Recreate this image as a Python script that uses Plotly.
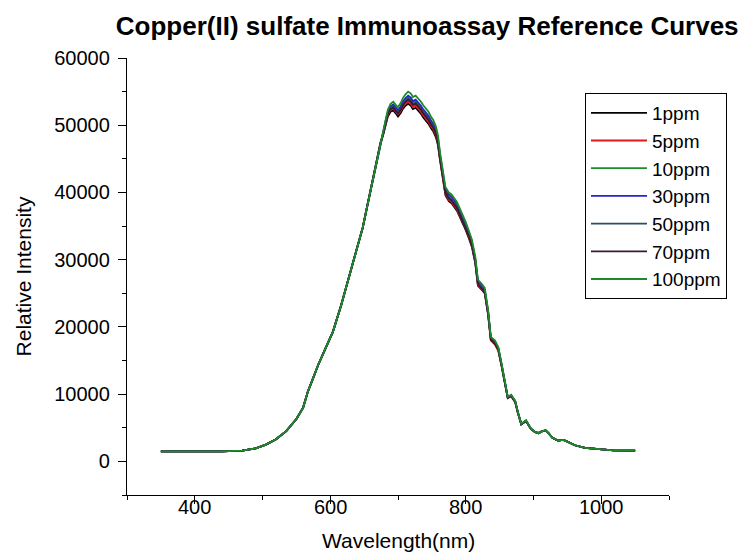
import plotly.graph_objects as go

# ---------------- data ----------------
series_names = ["1ppm", "5ppm", "10ppm", "30ppm", "50ppm", "70ppm", "100ppm"]
series_colors = ["#000000", "#E3171E", "#1E8C28", "#2626CC", "#2E4C66", "#3A1838", "#1F8A2A"]

# rising edge (all curves coincide here)
wl_rise = [350, 380, 410, 440, 470, 490, 505, 520, 535, 550, 560, 567, 574, 582,
           593, 604, 616, 624, 631, 641, 648, 653, 660]
val_rise = [1500, 1480, 1460, 1480, 1600, 1950, 2500, 3300, 4500, 6300, 8000, 10400,
            12200, 14300, 16800, 19300, 23200, 26000, 28700, 32100, 34800, 37200, 40600]

# peak region (curves separate slightly)
wl_peak = [665, 670, 674, 678, 682, 685, 689, 693, 697, 700, 704, 707, 711, 715, 719,
           722, 726, 730, 734, 737, 741, 745, 749, 752, 756, 759, 762, 766, 770, 775,
           779, 787, 794, 800, 805, 809, 814, 818, 823, 828, 833, 837, 843, 848, 853,
           858, 862, 867, 873, 877, 882, 889, 893, 896, 902]
peak_1ppm = [42900, 45300, 47200, 48500, 50300, 51300, 52000, 52200, 51700, 51300, 51800,
             52400, 52900, 53200, 52900, 52400, 52600, 52200, 51700, 51200, 50700, 50200,
             49500, 49100, 48200, 47000, 44800, 42000, 39600, 38700, 38400, 37300, 35800,
             34400, 33100, 31900, 29500, 26100, 25600, 25000, 21800, 18000, 17400, 16500,
             14100, 11200, 9400, 9700, 8800, 7200, 5500, 6000, 5400, 4850, 4380]
peak_5ppm = [42950, 45350, 47300, 48650, 50450, 51500, 52250, 52450, 51950, 51600, 52100,
             52700, 53200, 53500, 53200, 52700, 52900, 52500, 52000, 51500, 51000, 50500,
             49800, 49400, 48500, 47300, 45000, 42200, 39800, 38900, 38600, 37500, 36000,
             34600, 33300, 32100, 29700, 26200, 25700, 25100, 21900, 18100, 17500, 16600,
             14200, 11300, 9450, 9750, 8850, 7200, 5500, 6000, 5420, 4860, 4380]
peak_10ppm = [42980, 45420, 47400, 48800, 50700, 51900, 52700, 52950, 52450, 52100, 52650,
              53300, 53850, 54200, 53900, 53400, 53600, 53200, 52700, 52200, 51700, 51200,
              50450, 50050, 49050, 47800, 45400, 42500, 40200, 39400, 39100, 38000, 36400,
              35000, 33700, 32500, 30000, 26600, 26100, 25400, 22200, 18300, 17800, 16800,
              14350, 11400, 9500, 9820, 8920, 7250, 5550, 6050, 5460, 4880, 4390]
peak_30ppm = [42990, 45450, 47420, 48850, 50800, 52000, 52850, 53100, 52600, 52250, 52800,
              53500, 54050, 54400, 54100, 53600, 53800, 53400, 52900, 52400, 51900, 51400,
              50650, 50250, 49250, 48000, 45600, 42700, 40500, 39700, 39400, 38300, 36700,
              35300, 33900, 32700, 30200, 26800, 26300, 25600, 22350, 18400, 17900, 16900,
              14400, 11450, 9550, 9860, 8960, 7280, 5580, 6080, 5480, 4890, 4395]
peak_50ppm = [42970, 45400, 47350, 48700, 50600, 51750, 52500, 52750, 52250, 51900, 52450,
              53100, 53600, 53950, 53650, 53150, 53350, 52950, 52450, 51950, 51450, 50950,
              50200, 49800, 48850, 47600, 45250, 42400, 40100, 39250, 38950, 37850, 36250,
              34850, 33550, 32350, 29900, 26450, 25950, 25300, 22100, 18250, 17700, 16750,
              14300, 11350, 9480, 9800, 8900, 7240, 5530, 6030, 5440, 4870, 4385]
peak_70ppm = [42960, 45380, 47320, 48650, 50500, 51650, 52400, 52600, 52100, 51750, 52300,
              52950, 53450, 53800, 53500, 53000, 53200, 52800, 52300, 51800, 51300, 50800,
              50050, 49650, 48700, 47450, 45100, 42300, 40000, 39100, 38800, 37700, 36100,
              34700, 33400, 32200, 29800, 26350, 25850, 25200, 22000, 18200, 17600, 16700,
              14250, 11300, 9460, 9780, 8880, 7230, 5520, 6020, 5430, 4860, 4382]
peak_100ppm = [43000, 45500, 47500, 49000, 51000, 52300, 53200, 53500, 53000, 52700, 53300,
               54000, 54600, 55000, 54700, 54200, 54400, 54000, 53500, 53000, 52500, 52000,
               51200, 50800, 49800, 48500, 46000, 43000, 40800, 40000, 39700, 38600, 37000,
               35600, 34200, 33000, 30500, 27000, 26500, 25800, 22500, 18500, 18000, 17000,
               14500, 11500, 9600, 9900, 9000, 7300, 5600, 6100, 5500, 4900, 4400]

# long-wavelength tail (all curves coincide here)
wl_tail = [907, 913, 918, 922, 928, 936, 944, 951, 961, 976, 996, 1018, 1050]
val_tail = [4200, 4500, 4600, 4200, 3500, 3100, 3200, 2900, 2400, 2000, 1800, 1650, 1600]

peak_series = [peak_1ppm, peak_5ppm, peak_10ppm, peak_30ppm, peak_50ppm, peak_70ppm, peak_100ppm]

x_ticks = [400, 600, 800, 1000]
y_ticks = [0, 10000, 20000, 30000, 40000, 50000, 60000]

# ---------------- figure ----------------
FONT = "Liberation Sans, Arial, sans-serif"
fig = go.Figure()
wl_all = wl_rise + wl_peak + wl_tail
for name, color, peak in zip(series_names, series_colors, peak_series):
    fig.add_trace(go.Scatter(
        x=wl_all, y=val_rise + peak + val_tail, mode="lines", name=name,
        line=dict(color=color, width=1.8),
    ))

# x tick labels placed right under the tick marks (as in the reference)
annotations = [
    dict(x=v, xref="x", y=0, yref="paper", text=str(v), showarrow=False,
         yanchor="middle", yshift=-12, font=dict(family=FONT, size=20, color="black"))
    for v in x_ticks
]
annotations.append(
    dict(x=0.5, xref="paper", y=0, yref="paper", text="Wavelength(nm)", showarrow=False,
         yanchor="middle", yshift=-45, font=dict(family=FONT, size=21, color="black"))
)

fig.update_layout(
    width=754, height=560,
    margin=dict(l=119, r=93, t=50, b=73),
    paper_bgcolor="white", plot_bgcolor="white",
    font=dict(family=FONT, color="black", size=20),
    title=dict(text="<b>Copper(II) sulfate Immunoassay Reference Curves</b>",
               x=0.556, xanchor="center", y=0.968, yanchor="middle",
               font=dict(family=FONT, size=26, color="black")),
    showlegend=True,
    legend=dict(x=0.845, y=0.92, xanchor="left", yanchor="top",
                bordercolor="black", borderwidth=1, bgcolor="white",
                font=dict(family=FONT, size=19, color="black"),
                itemwidth=56, tracegroupgap=0),
    annotations=annotations,
)
fig.update_xaxes(
    range=[300, 1100], tickvals=x_ticks, showticklabels=False,
    showline=True, linecolor="black", linewidth=1.3, showgrid=False, zeroline=False,
    ticks="outside", ticklen=8, tickwidth=1.3, tickcolor="black",
    minor=dict(dtick=100, tick0=300, ticklen=4, tickwidth=1.3, tickcolor="black", ticks="outside"),
)
fig.update_yaxes(
    range=[-5000, 60000], tickvals=y_ticks, ticktext=[str(v) for v in y_ticks],
    showline=True, linecolor="black", linewidth=1.3, showgrid=False, zeroline=False,
    ticks="outside", ticklen=8, tickwidth=1.3, tickcolor="black",
    minor=dict(dtick=5000, tick0=-5000, ticklen=4, tickwidth=1.3, tickcolor="black", ticks="outside"),
    tickfont=dict(size=20), ticklabelstandoff=4,
    title=dict(text="Relative Intensity", font=dict(size=21), standoff=16),
)

fig.write_html("out.html")
